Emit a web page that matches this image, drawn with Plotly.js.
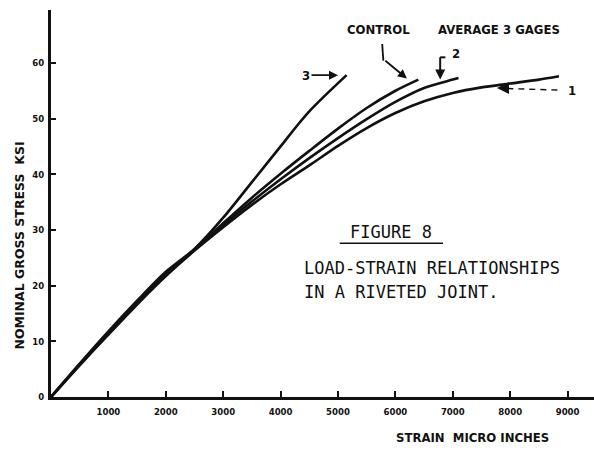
<!DOCTYPE html>
<html>
<head>
<meta charset="utf-8">
<script src="https://cdn.plot.ly/plotly-3.0.1.min.js"></script>
<style>
  html, body { margin: 0; padding: 0; background: #fff; }
  #chart { width: 594px; height: 451px; }
</style>
</head>
<body>
<div id="chart"></div>
<script>
// Strain readings (micro inches) and nominal gross stress (ksi) for each gage
const strainGage3 = [0, 500, 1000, 1500, 2000, 2500, 3000, 3500, 4000, 4300, 4500, 4750, 5150];
const stressGage3 = [0, 6.0, 11.8, 17.3, 22.5, 26.6, 32.2, 38.6, 45.0, 48.9, 51.3, 53.9, 57.8];

const strainControl = [0, 500, 1000, 1500, 2000, 2500, 3000, 3500, 4000, 4500, 5000, 5500, 6000, 6400];
const stressControl = [0, 5.9, 11.6, 17.0, 22.1, 26.5, 31.2, 35.8, 40.1, 44.2, 48.2, 51.9, 55.0, 57.0];

const strainGage2 = [0, 500, 1000, 1500, 2000, 2500, 3000, 3500, 4000, 4500, 5000, 5500, 6000, 6500, 7000, 7100];
const stressGage2 = [0, 5.8, 11.4, 16.8, 21.9, 26.4, 30.9, 35.1, 39.1, 42.9, 46.5, 49.9, 53.0, 55.5, 57.0, 57.3];

const strainGage1 = [0, 500, 1000, 1500, 2000, 2500, 3000, 3500, 4000, 4500, 5000, 5500, 6000, 6500, 7000, 7500, 8000, 8500, 8850];
const stressGage1 = [0, 5.7, 11.2, 16.6, 21.7, 26.3, 30.5, 34.5, 38.2, 41.6, 45.1, 48.3, 51.0, 53.1, 54.6, 55.6, 56.3, 57.0, 57.6];

const xTickVals = [1000, 2000, 3000, 4000, 5000, 6000, 7000, 8000, 9000];
const xTickText = ['1000', '2000', '3000', '4000', '5000', '6000', '7000', '8000', '9000'];
const yTickVals = [0, 10, 20, 30, 40, 50, 60];
const yTickText = ['0', '10', '20', '30', '40', '50', '60'];

const INK = '#111';
const labelFont = { family: 'DejaVu Sans Condensed', size: 13, color: INK, weight: 'bold' };
const titleFont = { family: 'DejaVu Sans', size: 12.5, color: INK, weight: 'bold' };
const tickFont = { family: 'DejaVu Sans Condensed', size: 9.5, color: INK, weight: 'bold' };
const noteFont = { family: 'DejaVu Sans Mono', size: 17, color: INK };

function curve(x, y) {
  return {
    x: x, y: y, type: 'scatter', mode: 'lines',
    line: { color: INK, width: 2.6, shape: 'spline', smoothing: 0.8 },
    hoverinfo: 'skip', showlegend: false
  };
}

const data = [
  curve(strainGage1, stressGage1),
  curve(strainGage2, stressGage2),
  curve(strainControl, stressControl),
  curve(strainGage3, stressGage3)
];

const layout = {
  width: 594, height: 451,
  margin: { l: 51, r: 0, t: 10, b: 54 },
  paper_bgcolor: '#fff', plot_bgcolor: '#fff',
  showlegend: false,
  xaxis: {
    range: [0, 9460], showgrid: false, zeroline: false,
    showline: true, linecolor: INK, linewidth: 3,
    tickmode: 'array', tickvals: xTickVals, ticktext: xTickText,
    ticks: 'inside', ticklen: 6, tickwidth: 2, tickcolor: INK,
    tickfont: tickFont, ticklabelstandoff: 4, fixedrange: true
  },
  yaxis: {
    range: [0, 69.5], showgrid: false, zeroline: false,
    showline: true, linecolor: INK, linewidth: 3,
    tickmode: 'array', tickvals: yTickVals, ticktext: yTickText,
    ticks: 'inside', ticklen: 5, tickwidth: 2, tickcolor: INK,
    tickfont: tickFont, ticklabelstandoff: 2, fixedrange: true
  },
  shapes: [
    // underline of the figure caption
    { type: 'line', xref: 'x', yref: 'y', x0: 5030, x1: 6830, y0: 27.6, y1: 27.6,
      line: { color: INK, width: 1.5 } },
    // upper leg of the control pointer
    { type: 'line', xref: 'x', yref: 'y', x0: 5770, x1: 5790, y0: 63.4, y1: 60.4,
      line: { color: INK, width: 1.8 } },
    // bracket for gage 2
    { type: 'line', xref: 'x', yref: 'y', x0: 6780, x1: 6780, y0: 61.0, y1: 58.2,
      line: { color: INK, width: 2 } },
    { type: 'line', xref: 'x', yref: 'y', x0: 6780, x1: 6870, y0: 61.0, y1: 61.0,
      line: { color: INK, width: 2 } },
    // dashed leader for gage 1
    { type: 'line', xref: 'x', yref: 'y', x0: 7950, x1: 8900, y0: 55.4, y1: 55.1,
      line: { color: INK, width: 1.4, dash: '6px,5px' } }
  ],
  annotations: [
    { xref: 'x', yref: 'y', x: 5700, y: 66.0, text: 'CONTROL', showarrow: false,
      font: labelFont },
    { xref: 'x', yref: 'y', x: 7800, y: 66.0, text: 'AVERAGE 3 GAGES', showarrow: false,
      font: labelFont },
    // gage 3 pointer
    { xref: 'x', yref: 'y', x: 5000, y: 57.8, ax: -32, ay: 0, text: '3',
      showarrow: true, arrowhead: 2, arrowsize: 1, arrowwidth: 1.8, arrowcolor: INK,
      font: labelFont },
    // control pointer
    { xref: 'x', yref: 'y', x: 6200, y: 57.2, ax: -23, ay: -19, text: '',
      showarrow: true, arrowhead: 2, arrowsize: 1, arrowwidth: 1.8, arrowcolor: INK },
    // gage 2 pointer
    { xref: 'x', yref: 'y', x: 6780, y: 57.0, ax: 0, ay: -10, text: '',
      showarrow: true, arrowhead: 2, arrowsize: 1, arrowwidth: 2, arrowcolor: INK },
    { xref: 'x', yref: 'y', x: 7060, y: 61.6, text: '2', showarrow: false, font: labelFont },
    // gage 1 pointer
    { xref: 'x', yref: 'y', x: 7770, y: 55.5, ax: 12, ay: 0, text: '',
      showarrow: true, arrowhead: 2, arrowsize: 1.2, arrowwidth: 2, arrowcolor: INK },
    { xref: 'x', yref: 'y', x: 9080, y: 55.1, text: '1', showarrow: false, font: labelFont },
    // caption
    { xref: 'x', yref: 'y', x: 5920, y: 29.7, text: 'FIGURE 8', showarrow: false,
      font: noteFont },
    { xref: 'x', yref: 'y', x: 4370, y: 23.2, xanchor: 'left', text: 'LOAD-STRAIN RELATIONSHIPS',
      showarrow: false, font: noteFont },
    { xref: 'x', yref: 'y', x: 4370, y: 18.9, xanchor: 'left', text: 'IN A RIVETED JOINT.',
      showarrow: false, font: noteFont },
    // axis titles
    { xref: 'paper', yref: 'paper', x: 0.632, y: -0.105, xanchor: 'left', yanchor: 'middle',
      text: 'STRAIN  MICRO INCHES', showarrow: false, font: labelFont },
    { xref: 'paper', yref: 'paper', x: -0.058, y: 0.39, xanchor: 'center', yanchor: 'middle',
      textangle: -90, text: 'NOMINAL GROSS STRESS  KSI', showarrow: false, font: titleFont }
  ]
};

Plotly.newPlot('chart', data, layout, { displayModeBar: false, staticPlot: true });
</script>
</body>
</html>
